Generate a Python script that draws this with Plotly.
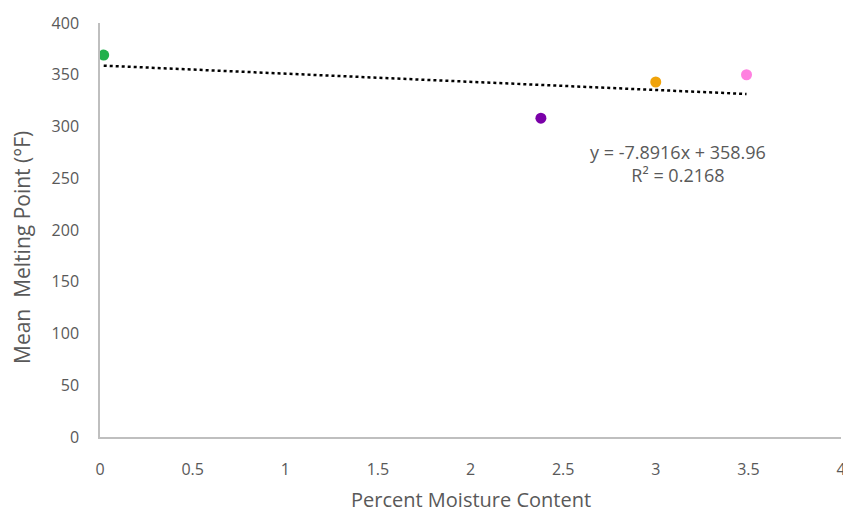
import plotly.graph_objects as go

moisture = [0.02, 2.38, 3.0, 3.49]
melting = [369, 308, 343, 350]
colors = ["#22b14c", "#7a00a8", "#f0a30a", "#ff80e0"]
slope = -7.8916
intercept = 358.96
eq_text = "y = -7.8916x + 358.96<br>R² = 0.2168"
x_title = "Percent Moisture Content"
y_title = "Mean  Melting Point (°F)"
x_ticks = [0, 0.5, 1, 1.5, 2, 2.5, 3, 3.5, 4]
x_ticklabels = ["0", "0.5", "1", "1.5", "2", "2.5", "3", "3.5", "4"]
y_ticks = [0, 50, 100, 150, 200, 250, 300, 350, 400]

trend_x = [min(moisture), max(moisture)]
trend_y = [slope * v + intercept for v in trend_x]

fig = go.Figure()
fig.add_trace(go.Scatter(x=trend_x, y=trend_y, mode="lines",
                         line=dict(color="black", width=2.5, dash="dot"),
                         showlegend=False, hoverinfo="skip"))
fig.add_trace(go.Scatter(x=moisture, y=melting, mode="markers",
                         marker=dict(color=colors, size=11),
                         showlegend=False))

fig.add_annotation(x=3.12, y=264, text=eq_text, showarrow=False,
                   font=dict(size=18, color="#595959"), align="center")

# axis titles placed as annotations to mimic the reference offsets
fig.add_annotation(xref="paper", yref="paper", x=0.5, y=-0.152,
                   xanchor="center", yanchor="middle",
                   text=x_title, showarrow=False,
                   font=dict(size=20, color="#595959"))
fig.add_annotation(xref="paper", yref="paper", x=0, xshift=-78, y=0.4565,
                   xanchor="center", yanchor="middle",
                   text=y_title, showarrow=False, textangle=-90,
                   font=dict(size=21, color="#595959"))

font_family = "Open Sans, Noto Sans, sans-serif"
fig.update_layout(
    width=843, height=512,
    margin=dict(l=100, r=2, t=23, b=75),
    paper_bgcolor="white", plot_bgcolor="white",
    font=dict(family=font_family, color="#595959", size=16),
    xaxis=dict(range=[0, 4], tickvals=x_ticks, ticktext=x_ticklabels,
               automargin=False, ticklabeloverflow="allow",
               showgrid=False, zeroline=False, showline=True,
               linecolor="#bfbfbf", linewidth=1.5,
               ticks="outside", ticklen=17, tickcolor="rgba(0,0,0,0)",
               tickfont=dict(size=16, color="#595959")),
    yaxis=dict(range=[0, 400], tickvals=y_ticks,
               automargin=False,
               showgrid=False, zeroline=False, showline=True,
               linecolor="#bfbfbf", linewidth=1.5,
               ticks="outside", ticklen=16, tickcolor="rgba(0,0,0,0)",
               tickfont=dict(size=16, color="#595959")),
)

fig.write_html("out.html", config={"displayModeBar": False},
               post_script="document.body.style.margin='0px';document.body.style.overflow='hidden';")
